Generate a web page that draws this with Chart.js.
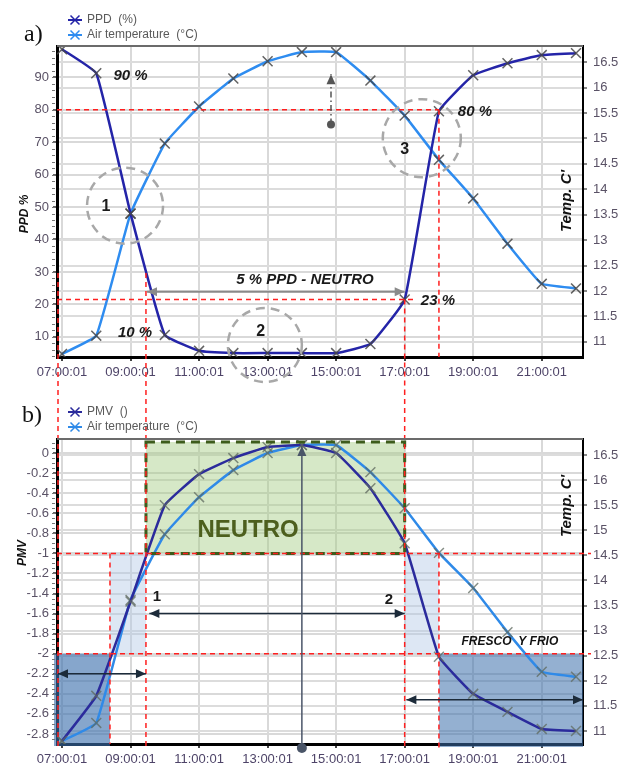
<!DOCTYPE html>
<html>
<head>
<meta charset="utf-8">
<script src="https://cdn.jsdelivr.net/npm/chart.js@4/dist/chart.umd.min.js"></script>
<style>
  body { margin: 0; background: #fff; width: 621px; height: 767px; position: relative; overflow: hidden; }
  #wrapA { position: absolute; left: 0; top: 0; width: 621px; height: 390px; }
  #wrapB { position: absolute; left: 0; top: 390px; width: 621px; height: 377px; }
</style>
</head>
<body>
<div id="wrapA"><canvas id="chartA"></canvas></div>
<div id="wrapB"><canvas id="chartB"></canvas></div>
<script>
// horas de medición
const hours = [7, 8, 9, 10, 11, 12, 13, 14, 15, 16, 17, 18, 19, 20, 21, 22]
const tickHours = [7, 9, 11, 13, 15, 17, 19, 21]
const timeLabels = ["07:00:01", "09:00:01", "11:00:01", "13:00:01", "15:00:01", "17:00:01", "19:00:01", "21:00:01"]

// a) PPD (%) y temperatura del aire
const ppd = [98.6, 91.2, 48, 10.6, 5.7, 5, 5, 5, 5, 7.8, 21.5, 79.5, 90.6, 94.3, 96.8, 97.4]
const tempA = [10.76, 11.12, 13.52, 14.9, 15.63, 16.18, 16.52, 16.7, 16.7, 16.14, 15.45, 14.58, 13.82, 12.93, 12.14, 12.05]

// b) PMV y temperatura del aire
const pmv = [-2.87, -2.42, -1.48, -0.52, -0.21, -0.05, 0.06, 0.08, 0.0, -0.35, -0.9, -2.03, -2.4, -2.58, -2.75, -2.77]
const tempB = [10.8, 11.16, 13.61, 14.92, 15.66, 16.2, 16.54, 16.7, 16.7, 16.16, 15.44, 14.55, 13.85, 12.97, 12.18, 12.08]

const ppdTicks = [10, 20, 30, 40, 50, 60, 70, 80, 90]
const pmvTicks = [0, -0.2, -0.4, -0.6, -0.8, -1, -1.2, -1.4, -1.6, -1.8, -2, -2.2, -2.4, -2.6, -2.8]
const tempTicks = [11, 11.5, 12, 12.5, 13, 13.5, 14, 14.5, 15, 15.5, 16, 16.5]

const FONT = "'Liberation Sans', Arial, sans-serif"
Chart.defaults.font.family = FONT
Chart.defaults.animation = false

const RED = "#ff1f1f"
const RED_DASH = [5, 4]

function resolveX(chart, v, off) {
  const a = chart.chartArea
  const p = v === "L" ? a.left : v === "R" ? a.right : chart.scales.x.getPixelForValue(v)
  return p + (off || 0)
}

function resolveY(chart, v, off) {
  const a = chart.chartArea
  let p
  if (v === "T") p = a.top
  else if (v === "B") p = a.bottom
  else if (v === "top") p = 0
  else if (v === "end") p = chart.height
  else p = chart.scales.y.getPixelForValue(v)
  return p + (off || 0)
}

function arrowHead(ctx, x1, y1, x2, y2, color) {
  const ang = Math.atan2(y2 - y1, x2 - x1)
  const len = 10, half = 4.5
  ctx.save()
  ctx.setLineDash([])
  ctx.fillStyle = color
  ctx.beginPath()
  ctx.moveTo(x2, y2)
  ctx.lineTo(x2 - len * Math.cos(ang) + half * Math.sin(ang), y2 - len * Math.sin(ang) - half * Math.cos(ang))
  ctx.lineTo(x2 - len * Math.cos(ang) - half * Math.sin(ang), y2 - len * Math.sin(ang) + half * Math.cos(ang))
  ctx.closePath()
  ctx.fill()
  ctx.restore()
}

function drawItems(chart, items) {
  const ctx = chart.ctx
  items.forEach(it => {
    ctx.save()
    if (it.type === "rect") {
      const x1 = resolveX(chart, it.x1, it.ox1), x2 = resolveX(chart, it.x2, it.ox2)
      const y1 = resolveY(chart, it.y1, it.oy1), y2 = resolveY(chart, it.y2, it.oy2)
      if (it.fill) {
        ctx.fillStyle = it.fill
        ctx.fillRect(x1, y1, x2 - x1, y2 - y1)
      }
      if (it.stroke) {
        ctx.strokeStyle = it.stroke
        ctx.lineWidth = it.width || 1
        ctx.setLineDash(it.dash || [])
        ctx.strokeRect(x1, y1, x2 - x1, y2 - y1)
      }
    } else if (it.type === "line") {
      const x1 = resolveX(chart, it.x1, it.ox1), x2 = resolveX(chart, it.x2, it.ox2)
      const y1 = resolveY(chart, it.y1, it.oy1), y2 = resolveY(chart, it.y2, it.oy2)
      ctx.strokeStyle = it.color
      ctx.lineWidth = it.width || 1.5
      ctx.setLineDash(it.dash || [])
      ctx.beginPath()
      ctx.moveTo(x1, y1)
      ctx.lineTo(x2, y2)
      ctx.stroke()
      if (it.head === "end" || it.head === "both") arrowHead(ctx, x1, y1, x2, y2, it.color)
      if (it.head === "start" || it.head === "both") arrowHead(ctx, x2, y2, x1, y1, it.color)
    } else if (it.type === "circle") {
      ctx.strokeStyle = it.color
      ctx.lineWidth = it.width || 2
      ctx.setLineDash(it.dash || [])
      ctx.beginPath()
      ctx.arc(resolveX(chart, it.x), resolveY(chart, it.y), it.r, 0, Math.PI * 2)
      ctx.stroke()
    } else if (it.type === "dot") {
      ctx.fillStyle = it.color
      ctx.beginPath()
      ctx.arc(resolveX(chart, it.x, it.ox), resolveY(chart, it.y, it.oy), it.r, 0, Math.PI * 2)
      ctx.fill()
    } else if (it.type === "text") {
      ctx.fillStyle = it.color || "#1a1a1a"
      ctx.font = it.font
      ctx.textAlign = "center"
      ctx.textBaseline = "middle"
      ctx.fillText(it.text, resolveX(chart, it.x), resolveY(chart, it.y))
    }
    ctx.restore()
  })
}

function drawCross(ctx, x, y, s) {
  ctx.beginPath()
  ctx.moveTo(x - s, y - s); ctx.lineTo(x + s, y + s)
  ctx.moveTo(x - s, y + s); ctx.lineTo(x + s, y - s)
  ctx.stroke()
}

// plugin propio: anotaciones, marco, leyenda y títulos
function notesPlugin(cfg) {
  return {
    id: "notes",
    beforeDatasetsDraw(chart) {
      drawItems(chart, cfg.under || [])
    },
    afterDatasetsDraw(chart) {
      drawItems(chart, cfg.over || [])
    },
    afterDraw(chart) {
      const ctx = chart.ctx
      const a = chart.chartArea

      // borde superior
      ctx.save()
      ctx.strokeStyle = "#6b6b6b"
      ctx.lineWidth = 2
      ctx.beginPath()
      ctx.moveTo(a.left, a.top)
      ctx.lineTo(a.right, a.top)
      ctx.stroke()

      // marcas menores del eje izquierdo
      ctx.strokeStyle = "#777"
      ctx.lineWidth = 1
      const ys = chart.scales.y
      for (let v = cfg.minor.from; v <= ys.max; v += cfg.minor.step) {
        const py = Math.round(ys.getPixelForValue(v)) + 0.5
        ctx.beginPath()
        ctx.moveTo(a.left - 5, py)
        ctx.lineTo(a.left - 2, py)
        ctx.stroke()
      }
      ctx.restore()

      // leyenda
      chart.data.datasets.forEach((ds, i) => {
        const y = cfg.legend.rows[i]
        const x = cfg.legend.x
        ctx.save()
        ctx.strokeStyle = ds.borderColor
        ctx.lineWidth = 2
        ctx.beginPath()
        ctx.moveTo(x, y)
        ctx.lineTo(x + 14, y)
        ctx.stroke()
        ctx.lineWidth = 1.5
        drawCross(ctx, x + 7, y, 4.5)
        ctx.fillStyle = "#5a5a5a"
        ctx.font = "12px " + FONT
        ctx.textBaseline = "middle"
        ctx.fillText(ds.label, x + 19, y)
        ctx.restore()
      })

      // título del panel
      ctx.save()
      ctx.fillStyle = "#111"
      ctx.font = "24px 'Liberation Serif', 'Times New Roman', serif"
      ctx.textBaseline = "alphabetic"
      ctx.fillText(cfg.title.text, cfg.title.x, cfg.title.y)
      ctx.restore()

      // títulos de ejes (rotados)
      cfg.axisTitles.forEach(t => {
        ctx.save()
        ctx.translate(t.x, t.y)
        ctx.rotate(-Math.PI / 2)
        ctx.fillStyle = "#111"
        ctx.font = t.font
        ctx.textAlign = "center"
        ctx.textBaseline = "middle"
        ctx.fillText(t.text, 0, 0)
        ctx.restore()
      })
    }
  }
}

const fmt = v => String(Number(v.toFixed(2)))

function baseScales(leftMin, leftMax, leftTicks, rightMin, rightMax, xHeight) {
  return {
    x: {
      type: "linear",
      min: 6.854,
      max: 22.204,
      afterBuildTicks: s => { s.ticks = tickHours.map(v => ({ value: v })) },
      afterFit: s => { s.height = xHeight },
      ticks: {
        callback: (v) => timeLabels[tickHours.indexOf(v)],
        color: "#4e4468",
        font: { size: 13 },
        padding: 4,
        maxRotation: 0
      },
      grid: { color: "#d9d9d9", lineWidth: 2, tickLength: 4, tickColor: "#444" },
      border: { color: "#000", width: 3 }
    },
    y: {
      position: "left",
      min: leftMin,
      max: leftMax,
      afterBuildTicks: s => { s.ticks = leftTicks.map(v => ({ value: v })) },
      afterFit: s => { s.width = 57 },
      ticks: { color: "#5a5266", font: { size: 13 }, padding: 4, callback: fmt },
      grid: { color: "#d9d9d9", lineWidth: 2, tickLength: 4, tickColor: "#666" },
      border: { color: "#000", width: 3 }
    },
    y2: {
      position: "right",
      min: rightMin,
      max: rightMax,
      afterBuildTicks: s => { s.ticks = tempTicks.map(v => ({ value: v })) },
      afterFit: s => { s.width = 38 },
      ticks: { color: "#5a5266", font: { size: 13 }, padding: 6, callback: fmt },
      grid: { color: "#dcdcdc", lineWidth: 2, tickLength: 4, tickColor: "#888" },
      border: { color: "#000", width: 2 }
    }
  }
}

function series(label, values, axis, color, crossColor) {
  return {
    label: label,
    data: hours.map((h, i) => ({ x: h, y: values[i] })),
    yAxisID: axis,
    borderColor: color,
    backgroundColor: color,
    borderWidth: 2.5,
    tension: 0.1,
    pointStyle: "crossRot",
    pointRadius: 7,
    pointBorderColor: crossColor,
    pointBorderWidth: 1.5
  }
}

const redLine = (x1, y1, x2, y2, extra) => Object.assign({ type: "line", x1, y1, x2, y2, color: RED, width: 1.5, dash: RED_DASH }, extra || {})
const pctFont = "bold italic 15px " + FONT
const numFont = "bold 16px " + FONT

const notesA = {
  minor: { from: 4, step: 2 },
  legend: { x: 68, rows: [20, 35] },
  title: { text: "a)", x: 24, y: 41 },
  axisTitles: [
    { text: "PPD %", x: 25, y: 214, font: "bold italic 12px " + FONT },
    { text: "Temp. C'", x: 567, y: 201, font: "bold italic 15px " + FONT }
  ],
  over: [
    redLine("L", 80, 18, 80),
    redLine(18, 80, 18, "B"),
    redLine("L", 21.5, 17.25, 21.5),
    redLine(17, 21.5, 17, "end"),
    redLine(9.45, 29.7, 9.45, "end"),
    redLine("L", 29.7, "L", "end", { ox1: 1, ox2: 1 }),
    { type: "line", x1: 9.48, y1: 23.9, x2: 17, y2: 23.9, color: "#8a8a8a", width: 2, head: "both" },
    { type: "text", x: 14.09, y: 27.6, text: "5 % PPD - NEUTRO", font: pctFont },
    { type: "line", x1: 14.85, y1: 75.4, x2: 14.85, y2: 90.9, color: "#555", width: 1.5, dash: [6, 3, 1.5, 3], head: "end" },
    { type: "dot", x: 14.85, y: 75.4, r: 4, color: "#555" },
    { type: "circle", x: 8.84, y: 50.4, r: 38, color: "#a8a8a8", width: 2.5, dash: [9, 6] },
    { type: "circle", x: 12.92, y: 7.5, r: 37, color: "#a8a8a8", width: 2.5, dash: [9, 6] },
    { type: "circle", x: 17.5, y: 71.2, r: 39, color: "#a8a8a8", width: 2.5, dash: [9, 6] },
    { type: "text", x: 8.28, y: 50, text: "1", font: numFont },
    { type: "text", x: 12.8, y: 11.5, text: "2", font: numFont },
    { type: "text", x: 17.0, y: 67.8, text: "3", font: numFont },
    { type: "text", x: 9.0, y: 90.3, text: "90 %", font: pctFont },
    { type: "text", x: 9.13, y: 11.2, text: "10 %", font: pctFont },
    { type: "text", x: 17.97, y: 21.1, text: "23 %", font: pctFont },
    { type: "text", x: 19.05, y: 79.2, text: "80 %", font: pctFont }
  ]
}

const arrowDark = "#1c2b3a"

const notesB = {
  minor: { from: -2.85, step: 0.05 },
  legend: { x: 68, rows: [22, 37] },
  title: { text: "b)", x: 22, y: 32 },
  axisTitles: [
    { text: "PMV", x: 23, y: 163, font: "bold italic 12px " + FONT },
    { text: "Temp. C'", x: 567, y: 116, font: "bold italic 15px " + FONT }
  ],
  under: [
    { type: "rect", x1: 9.45, x2: 17, y1: 0.11, y2: -1, fill: "rgba(165,205,130,0.45)" },
    { type: "rect", x1: 8.4, x2: 9.45, y1: -1, y2: -2, fill: "rgba(180,202,230,0.45)" },
    { type: "rect", x1: 17, x2: 18, y1: -1, y2: -2, fill: "rgba(180,202,230,0.45)" },
    { type: "rect", x1: "L", ox1: -3, x2: 8.4, y1: -2, y2: "B", oy2: 2, fill: "rgba(60,112,172,0.62)" },
    { type: "rect", x1: 18, x2: "R", y1: -2, y2: "B", oy2: 3, fill: "rgba(60,112,172,0.55)" }
  ],
  over: [
    { type: "rect", x1: 9.45, x2: 17, y1: 0.11, y2: -1, stroke: "#3d5c1c", width: 3, dash: [9, 6] },
    { type: "text", x: 12.43, y: -0.77, text: "NEUTRO", font: "bold 24px " + FONT, color: "#4d5f1e" },
    redLine("L", -1, "R", -1, { ox2: 8 }),
    redLine("L", -2, "R", -2, { ox2: 8 }),
    redLine("L", "top", "L", "B", { ox1: 1, ox2: 1, oy2: 6 }),
    redLine(8.4, -1, 8.4, "B"),
    redLine(9.45, "top", 9.45, "B", { oy2: 6 }),
    redLine(17, "top", 17, "B", { oy2: 6 }),
    redLine(18, -1, 18, "B", { oy2: 6 }),
    { type: "line", x1: "L", ox1: 1, y1: -2.2, x2: 9.45, y2: -2.2, color: arrowDark, width: 1.5, head: "both" },
    { type: "line", x1: 9.55, y1: -1.6, x2: 17, y2: -1.6, color: arrowDark, width: 1.5, head: "both" },
    { type: "line", x1: 17.05, y1: -2.46, x2: "R", y2: -2.46, color: arrowDark, width: 1.5, head: "both" },
    { type: "line", x1: 14, y1: "B", oy1: 4, x2: 14, y2: 0.07, color: "#4a5568", width: 1.5, head: "end" },
    { type: "dot", x: 14, y: "B", oy: 4, r: 5, color: "#4a5568" },
    { type: "text", x: 9.77, y: -1.43, text: "1", font: "bold 15px " + FONT },
    { type: "text", x: 16.54, y: -1.46, text: "2", font: "bold 15px " + FONT },
    { type: "text", x: 20.07, y: -1.88, text: "FRESCO  Y FRIO", font: "bold italic 12px " + FONT, color: "#111" }
  ]
}

new Chart(document.getElementById("chartA"), {
  type: "line",
  data: {
    datasets: [
      series("PPD  (%)", ppd, "y", "#2424a8", "rgba(70,70,70,0.85)"),
      series("Air temperature  (°C)", tempA, "y2", "#2e8cf0", "rgba(70,70,70,0.85)")
    ]
  },
  options: {
    responsive: true,
    maintainAspectRatio: false,
    events: [],
    layout: { padding: { top: 46, left: 0, right: 0, bottom: 0 } },
    scales: baseScales(3.8, 99.6, ppdTicks, 10.7, 16.82, 33),
    plugins: { legend: { display: false }, tooltip: { enabled: false } }
  },
  plugins: [notesPlugin(notesA)]
})

new Chart(document.getElementById("chartB"), {
  type: "line",
  data: {
    datasets: [
      series("PMV  ()", pmv, "y", "#2b2b9c", "rgba(95,105,95,0.75)"),
      series("Air temperature  (°C)", tempB, "y2", "#2f8ae8", "rgba(95,105,95,0.75)")
    ]
  },
  options: {
    responsive: true,
    maintainAspectRatio: false,
    events: [],
    layout: { padding: { top: 49, left: 0, right: 0, bottom: 0 } },
    scales: baseScales(-2.9, 0.14, pmvTicks, 10.74, 16.82, 23),
    plugins: { legend: { display: false }, tooltip: { enabled: false } }
  },
  plugins: [notesPlugin(notesB)]
})
</script>
</body>
</html>
